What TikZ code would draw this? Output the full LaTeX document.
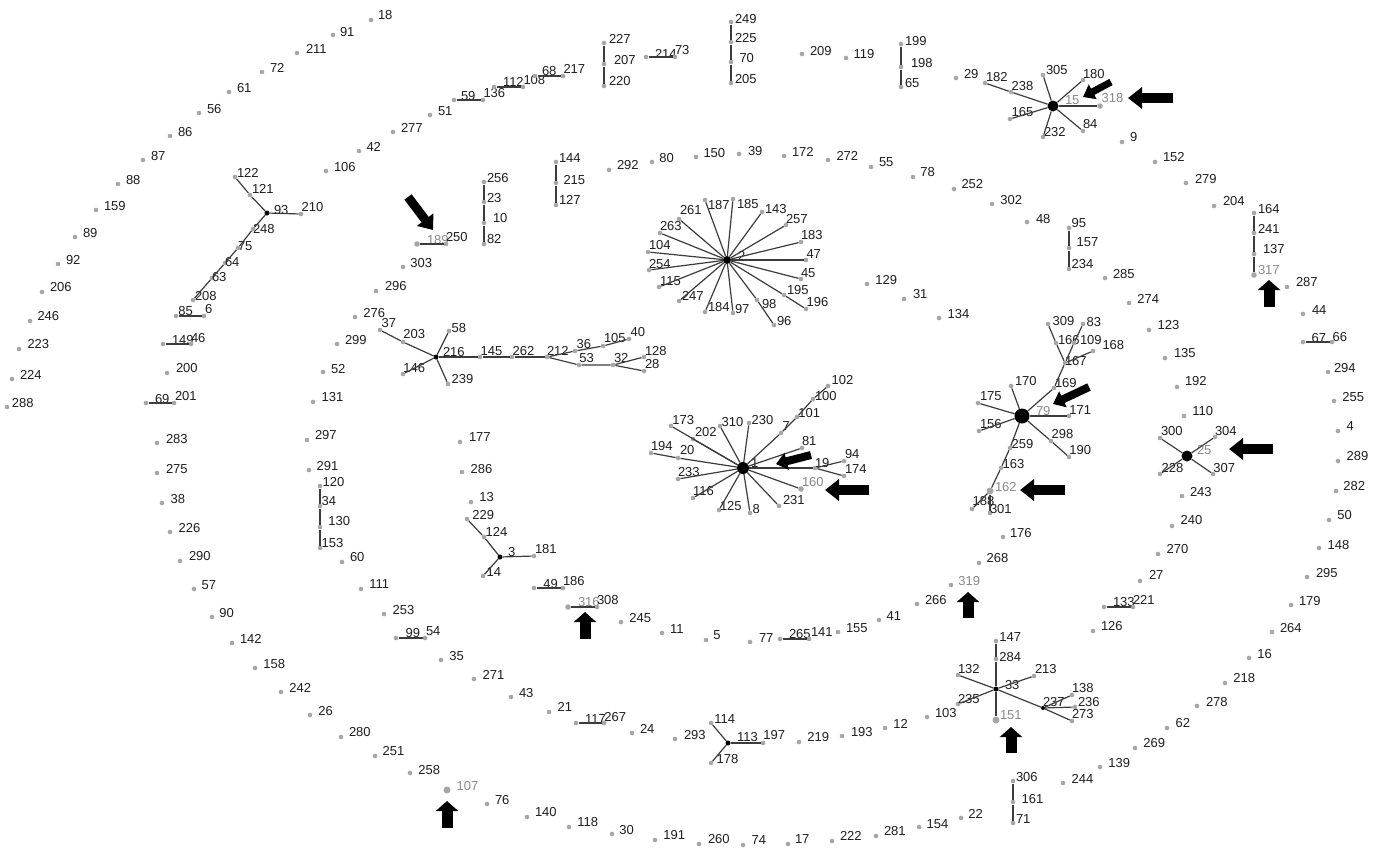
\documentclass[tikz,border=0pt]{standalone}
\usepackage{fontspec}
\setmainfont{Liberation Sans}
\usetikzlibrary{arrows.meta}
\definecolor{labtext}{HTML}{1E1E1E}
\definecolor{labgray}{HTML}{8A8A8A}
\definecolor{dotgray}{HTML}{A6A6A6}
\definecolor{edgecol}{HTML}{3C3C3C}
\newcommand\Nd[6][vdot]{\node[#1] (n#2) at (#3,#4) {};\node[lab] (l#2) at (#3+#5,#4+#6) {#2};}
\newcommand\Ng[6][gdot]{\node[#1] (n#2) at (#3,#4) {};\node[glab] (l#2) at (#3+#5,#4+#6) {#2};}
\begin{document}
\begin{tikzpicture}[x=1pt,y=-1pt,
  vdot/.style={circle,fill=dotgray,inner sep=0pt,minimum size=4.6pt},
  gdot/.style={circle,fill=dotgray,inner sep=0pt,minimum size=5.6pt},
  bgdot/.style={circle,fill=dotgray,inner sep=0pt,minimum size=7pt},
  hub/.style={circle,fill=black,inner sep=0pt,minimum size=5pt},
  lab/.style={anchor=base west,inner sep=0pt,outer sep=0pt,text=labtext,font=\fontsize{13}{15}\selectfont},
  glab/.style={lab,text=labgray},
  lnk/.style={draw=edgecol,line width=1.2pt},
  bigarr/.style={draw=black,line width=10pt,-{Triangle[width=21pt,length=14pt]}},
  uparr/.style={draw=black,line width=11pt,-{Triangle[width=22pt,length=10pt]}},
  smarr/.style={draw=black,line width=8pt,-{Triangle[width=17pt,length=11pt]}}]
\fill[white] (0,0) rectangle (1384,852);
\useasboundingbox (0,0) rectangle (1384,852);
% ---------- outer spiral ----------
\Nd{288}{7}{407}{5}{0}
\Nd{224}{12}{379}{8}{0}
\Nd{223}{19}{349}{8.5}{-0.5}
\Nd{246}{30}{321}{7.5}{-1}
\Nd{206}{42}{292}{8}{-0.5}
\Nd{92}{58}{264}{8}{0.5}
\Nd{89}{75}{237}{8}{0}
\Nd{159}{96}{210}{8}{0.5}
\Nd{88}{118}{184}{8}{0.5}
\Nd{87}{143}{160}{8}{0}
\Nd{86}{170}{136}{8}{0}
\Nd{56}{199}{113}{8}{0}
\Nd{61}{229}{92}{8}{0}
\Nd{72}{262}{72}{8}{0.5}
\Nd{211}{297}{53}{9}{0}
\Nd{91}{333}{35}{7}{1}
\Nd{18}{371}{20}{7}{-0.5}
% ---------- second spiral ----------
\Nd{106}{326}{171}{8}{0}
\Nd{42}{359}{151}{7.5}{0}
\Nd{277}{393}{132}{8}{0}
\Nd{51}{430}{115}{8}{0}
\Nd{59}{454}{100}{7}{0}
\Nd{136}{483}{100}{0.5}{-2.7}
\Nd{112}{494}{87}{9}{-1}
\Nd{108}{523}{87}{0.5}{-2.4}
\Nd{68}{535}{76}{7}{-0.4}
\Nd{217}{563}{76}{0.5}{-3}
\Nd{227}{604}{43}{5}{0.5}
\Nd{207}{604}{64}{10}{0.5}
\Nd{220}{604}{86}{5}{-0.5}
\Nd{214}{646}{57}{9}{1}
\Nd{73}{675}{57}{0}{-2.4}
\Nd{249}{731}{22}{4}{1}
\Nd{225}{731}{42}{4}{0}
\Nd{70}{731}{62}{8.5}{0.5}
\Nd{205}{731}{83}{4}{0.3}
\Nd{209}{802}{54}{8}{1}
\Nd{119}{846}{58}{7.5}{0.6}
\Nd{199}{901}{44}{4}{1}
\Nd{198}{901}{67}{10}{0}
\Nd{65}{901}{87}{4}{0}
\Nd{29}{956}{78}{8}{0.5}
\Nd{182}{985}{83}{1}{-2}
\Nd{238}{1011}{92}{0.7}{-2}
\node[hub,minimum size=11pt] (n15) at (1053,106) {};
\node[glab] (l15) at (1065,104.6) {15};
\Nd{305}{1043}{75}{3}{-0.4}
\Nd{180}{1083}{80}{0}{-1.4}
\Ng{318}{1100}{106}{1.7}{-3.7}
\Nd{84}{1083}{131}{0}{-3}
\Nd{232}{1043}{137}{1}{-0.7}
\Nd{165}{1010}{119}{1.7}{-3}
\Nd{9}{1122}{142}{8}{-0.7}
\Nd{152}{1155}{162}{8}{-0.4}
\Nd{279}{1186}{183}{9}{0.3}
\Nd{204}{1214}{206}{9}{-0.7}
\Nd{164}{1254}{213}{4}{0.3}
\Nd{241}{1254}{233}{4}{0.3}
\Nd{137}{1254}{254}{9}{-1}
\Ng{317}{1254}{275}{4}{-0.4}
\Nd{287}{1287}{287}{9}{-0.4}
\Nd{44}{1303}{314}{9}{0.6}
\Nd{67}{1303}{342}{8.7}{0}
\Nd{66}{1332}{342}{0.7}{-0.7}
\Nd{294}{1328}{372}{6}{0}
\Nd{255}{1334}{401}{8.3}{0.3}
\Nd{4}{1338}{431}{8.7}{-0.4}
\Nd{289}{1338}{461}{8.7}{-0.4}
\Nd{282}{1336}{491}{7.3}{-0.7}
\Nd{50}{1329}{520}{8.3}{-0.4}
\Nd{148}{1319}{548}{8.7}{1}
\Nd{295}{1307}{577}{9}{0.3}
\Nd{179}{1291}{605}{8}{0}
\Nd{264}{1272}{632}{8}{0.3}
\Nd{16}{1249}{658}{8.3}{0}
\Nd{218}{1225}{683}{8.3}{-1}
\Nd{278}{1197}{706}{9}{0.3}
\Nd{62}{1167}{728}{8.7}{-0.7}
\Nd{269}{1135}{748}{8.3}{-0.7}
\Nd{139}{1100}{767}{8.3}{0}
\Nd{244}{1063}{783}{8.7}{0.6}
\Nd{306}{1013}{781}{3}{0.3}
\Nd{161}{1013}{802}{8.7}{1.6}
\Nd{71}{1013}{823}{3}{0}
\Nd{22}{961}{818}{7.3}{0.6}
\Nd{154}{919}{827}{7.7}{1}
\Nd{281}{876}{836}{8}{-0.7}
\Nd{222}{832}{841}{8}{-0.4}
\Nd{17}{788}{844}{7}{-1}
\Nd{74}{743}{845}{8.7}{-0.4}
\Nd{260}{699}{844}{9}{-1}
\Nd{191}{655}{840}{8.3}{-0.4}
\Nd{30}{612}{834}{7.3}{0.6}
\Nd{118}{569}{827}{8.3}{-0.7}
\Nd{140}{527}{817}{8}{-0.7}
\Nd{76}{487}{804}{8}{0}
\Ng[bgdot]{107}{447}{790}{9.7}{0.3}
\Nd{258}{410}{773}{8.3}{1}
\Nd{251}{375}{756}{7.7}{-0.4}
\Nd{280}{341}{737}{8}{-0.7}
\Nd{26}{310}{715}{8.3}{0.3}
\Nd{242}{281}{692}{8.3}{0.3}
\Nd{158}{255}{668}{8.3}{0}
\Nd{142}{232}{643}{8}{0}
\Nd{90}{212}{617}{7.3}{0}
\Nd{57}{194}{589}{7.7}{0.6}
\Nd{290}{180}{561}{9}{-0.4}
\Nd{226}{170}{532}{8.7}{0.3}
\Nd{38}{162}{503}{8.7}{0.3}
\Nd{275}{157}{473}{9}{0}
\Nd{283}{157}{443}{9}{0}
\Nd{69}{146}{403}{9}{0}
\Nd{201}{174}{403}{1}{-2.4}
\Nd{200}{167}{373}{9}{-0.4}
\Nd{149}{163}{344}{9}{0.6}
\Nd{46}{191}{344}{0}{-2}
\Nd{85}{176}{316}{2.3}{-0.4}
\Nd{6}{204}{316}{1}{-3}
\Nd{208}{193}{300}{2}{0}
\Nd{63}{212}{278}{0}{3}
\Nd{64}{225}{263}{0}{3}
\Nd{75}{238}{248}{0}{2.3}
\Nd{248}{253}{229}{0}{4}
\Nd[hub]{93}{267}{213}{7}{1}
\Nd{210}{301}{214}{0.7}{-2.7}
\Nd{121}{250}{195}{2}{-1.4}
\Nd{122}{235}{177}{2}{0}
% ---------- third spiral ----------
\Nd{303}{403}{267}{7.3}{0}
\Ng{189}{417}{244}{10}{0.6}
\Nd{250}{446}{244}{0}{-3}
\Nd{256}{484}{182}{3}{0}
\Nd{23}{484}{202}{3}{0.2}
\Nd{10}{484}{223}{9}{-0.7}
\Nd{82}{484}{244}{3}{-0.7}
\Nd{144}{556}{162}{3}{0}
\Nd{215}{556}{183}{7.5}{1.3}
\Nd{127}{556}{205}{3}{-0.4}
\Nd{292}{609}{170}{8}{-0.4}
\Nd{80}{652}{162}{7.3}{0}
\Nd{150}{696}{157}{7.5}{0}
\Nd{39}{739}{154}{9}{1}
\Nd{172}{784}{156}{8}{0}
\Nd{272}{828}{160}{8.5}{0}
\Nd{55}{871}{167}{8}{-0.7}
\Nd{78}{913}{177}{7.3}{-0.7}
\Nd{252}{954}{189}{7.5}{-0.4}
\Nd{302}{992}{204}{8.3}{0}
\Nd{48}{1027}{222}{9}{1}
\Nd{95}{1069}{228}{2.7}{-1}
\Nd{157}{1069}{248}{7.7}{-1.4}
\Nd{234}{1069}{269}{2.7}{-0.4}
\Nd{285}{1105}{278}{8}{0.3}
\Nd{274}{1129}{303}{8.3}{0}
\Nd{123}{1149}{330}{8.7}{-0.4}
\Nd{135}{1165}{358}{9}{-0.7}
\Nd{192}{1177}{387}{8}{-1.4}
\Nd{110}{1184}{416}{8.3}{-0.4}
\node[hub,minimum size=11pt] (n25) at (1187,456) {};
\node[glab] (l25) at (1197,454.6) {25};
\Nd{300}{1160}{438}{1}{-2.4}
\Nd{304}{1215}{437}{0}{-1.4}
\Nd{228}{1160}{474}{1.7}{-1.7}
\Nd{307}{1213}{474}{0.3}{-1.7}
\Nd{243}{1182}{496}{8}{0.3}
\Nd{240}{1172}{526}{8.7}{-1.4}
\Nd{270}{1158}{554}{8.7}{-1}
\Nd{27}{1140}{581}{9}{-1.4}
\Nd{133}{1104}{607}{9}{-0.7}
\Nd{221}{1133}{607}{0}{-3}
\Nd{126}{1093}{631}{8}{-0.7}
\Nd[hub]{33}{996}{689}{9}{0.6}
\Nd{147}{996}{641}{3.3}{0.3}
\Nd{284}{996}{659}{3.3}{2.3}
\Nd{132}{958}{675}{0}{-2}
\Nd{235}{958}{704}{0}{-1}
\Ng[bgdot]{151}{996}{720}{4}{-1}
\Nd{213}{1034}{676}{1}{-3}
\Nd[hub,minimum size=4pt]{237}{1043}{708}{0}{-1.7}
\Nd{138}{1072}{695}{0}{-2.7}
\Nd{236}{1075}{707}{3}{-0.7}
\Nd{273}{1072}{721}{0}{-3}
\Nd{103}{927}{717}{8}{0}
\Nd{12}{885}{728}{8.3}{0}
\Nd{193}{842}{736}{9}{0.3}
\Nd{219}{799}{742}{8.3}{-0.7}
\Nd{197}{763}{743}{0.3}{-3.4}
\Nd[hub]{113}{728}{743}{9}{-1.7}
\Nd{114}{711}{723}{3.3}{0.6}
\Nd{178}{711}{763}{5.7}{0}
\Nd{293}{675}{739}{9}{0.6}
\Nd{24}{632}{733}{8}{0}
\Nd{267}{604}{723}{0.3}{-1.7}
\Nd{117}{576}{723}{9}{0}
\Nd{21}{549}{712}{8.7}{-0.7}
\Nd{43}{511}{697}{8}{0}
\Nd{271}{474}{679}{8.7}{0.6}
\Nd{35}{441}{660}{8.3}{0.3}
\Nd{99}{396}{638}{9.7}{-0.7}
\Nd{54}{425}{638}{1}{-2.4}
\Nd{253}{384}{614}{8.7}{0}
\Nd{111}{361}{589}{8.3}{-0.4}
\Nd{60}{342}{562}{8}{-0.7}
\Nd{153}{320}{548}{1.7}{-0.4}
\Nd{130}{320}{527}{8.3}{-1.4}
\Nd{34}{320}{506}{1.7}{-0.4}
\Nd{120}{320}{486}{2.7}{0.3}
\Nd{291}{309}{470}{7.7}{0.6}
\Nd{297}{307}{440}{8}{-0.4}
\Nd{131}{313}{402}{8.7}{-0.7}
\Nd{52}{323}{372}{8}{1.6}
\Nd{299}{337}{344}{8}{0}
\Nd{276}{355}{317}{8.3}{0}
\Nd{296}{376}{291}{9}{-0.4}
% ---------- inner ring ----------
\Nd{177}{460}{442}{9}{-0.7}
\Nd{286}{462}{472}{8.7}{1}
\Nd{13}{471}{502}{8.3}{-0.7}
\Nd{229}{467}{519}{5.3}{0.6}
\Nd{124}{484}{537}{1.7}{-0.7}
\Nd[hub]{3}{500}{557}{8}{-0.7}
\Nd{181}{534}{556}{1}{-3}
\Nd{14}{483}{576}{3.7}{0.3}
\Nd{49}{534}{588}{9.3}{0}
\Nd{186}{563}{588}{0}{-2.7}
\Ng{316}{568}{607}{10}{-0.7}
\Nd{308}{597}{607}{0}{-2.4}
\Nd{245}{621}{622}{8.3}{0}
\Nd{11}{662}{633}{8}{0}
\Nd{5}{706}{640}{7.3}{-0.4}
\Nd{77}{750}{642}{9}{0}
\Nd{265}{780}{639}{9}{-0.4}
\Nd{141}{809}{639}{2}{-2.7}
\Nd{155}{838}{632}{8}{0}
\Nd{41}{879}{620}{7.7}{0.6}
\Nd{266}{917}{604}{8}{0.6}
\Ng[vdot]{319}{951}{585}{7.3}{0.3}
\Nd{268}{979}{563}{7.7}{-0.7}
\Nd{176}{1003}{537}{7}{0}
\Nd{134}{939}{318}{8.7}{0}
\Nd{31}{904}{299}{9}{-0.4}
\Nd{129}{867}{284}{8.3}{0.6}
% ---------- cluster 216 ----------
\Nd[hub]{216}{436}{357}{7}{-1}
\Nd{37}{380}{330}{1.7}{-2.7}
\Nd{203}{403}{342}{0.3}{-3.4}
\Nd{58}{449}{331}{2.7}{1}
\Nd{146}{403}{374}{0.3}{-2}
\Nd{239}{448}{384}{3.7}{-0.4}
\Nd{145}{480}{357}{0.7}{-1.7}
\Nd{262}{512}{357}{0.7}{-1.7}
\Nd{212}{547}{357}{0}{-1.7}
\Nd{36}{575}{351}{1.7}{-3}
\Nd{105}{603}{346}{1}{-4}
\Nd{40}{629}{339}{1.7}{-2.7}
\Nd{53}{579}{365}{0.3}{-3}
\Nd{32}{613}{365}{1}{-3}
\Nd{128}{644}{357}{1}{-1.7}
\Nd{28}{644}{371}{1}{-3}
% ---------- cluster 2 ----------
\Nd[hub,minimum size=8pt]{2}{727}{260}{11}{0.6}
\Nd{187}{705}{200}{3}{9.5}
\Nd{185}{733}{199}{4}{9}
\Nd{143}{762}{212}{3}{1.7}
\Nd{257}{786}{225}{0}{-1.3}
\Nd{183}{801}{242}{0}{-2.5}
\Nd{47}{806}{260}{0.5}{-2}
\Nd{45}{801}{279}{0}{-1.7}
\Nd{195}{784}{295}{3}{-1}
\Nd{196}{806}{309}{0.7}{-3}
\Nd{98}{757}{300}{5}{8}
\Nd{96}{774}{325}{3}{0}
\Nd{97}{733}{313}{2}{0}
\Nd{184}{705}{312}{3}{-0.7}
\Nd{247}{679}{301}{3}{-1}
\Nd{115}{659}{287}{1}{-1.5}
\Nd{254}{649}{270}{0}{-2}
\Nd{104}{648}{252}{1}{-3}
\Nd{263}{660}{233}{0}{-2.7}
\Nd{261}{679}{219}{1}{-4.5}
% ---------- cluster 1 ----------
\Nd[hub,minimum size=12pt]{1}{743}{468}{8}{-1}
\Nd{173}{671}{426}{1.3}{-1.4}
\Nd{202}{693}{439}{2}{-2.7}
\Nd{20}{678}{458}{2}{-3.4}
\Nd{194}{651}{453}{0}{-2.4}
\Nd{233}{678}{479}{0}{-3}
\Nd{116}{693}{498}{0}{-2.7}
\Nd{125}{719}{510}{1}{0}
\Nd{8}{750}{513}{2.7}{0}
\Nd{231}{779}{506}{4}{-1.4}
\Ng{160}{801}{489}{1}{-2.7}
\Nd{19}{815}{468}{0}{-1}
\Nd{94}{844}{461}{1}{-2.4}
\Nd{174}{844}{476}{1}{-3}
\Nd{81}{802}{448}{0}{-2.7}
\Nd{7}{781}{433}{1.7}{-2.4}
\Nd{101}{797}{417}{1.3}{0}
\Nd{100}{813}{399}{2}{1.6}
\Nd{102}{828}{386}{3.7}{-1.4}
\Nd{230}{749}{423}{2.7}{1.6}
\Nd{310}{720}{426}{1.7}{0.3}
% ---------- cluster 79 ----------
\node[hub,minimum size=15pt] (n79) at (1022,416) {};
\node[glab] (l79) at (1036,415.6) {79};
\Nd{170}{1011}{386}{4}{-0.7}
\Nd{175}{978}{403}{2}{-2.4}
\Nd{156}{979}{431}{1}{-3}
\Nd{259}{1010}{448}{1.7}{0.6}
\Nd{163}{1001}{468}{1.7}{0.6}
\Ng[bgdot]{162}{990}{491}{5}{0}
\Nd{188}{972}{509}{0.7}{-3.4}
\Nd{301}{990}{513}{0}{0}
\Nd{169}{1054}{388}{1}{-0.7}
\Nd{167}{1065}{363}{0}{2.6}
\Nd{309}{1048}{324}{4.7}{1.6}
\Nd{166}{1056}{343}{2}{1.6}
\Nd{83}{1083}{324}{3.7}{2.3}
\Nd{109}{1074}{343}{6}{1.6}
\Nd{168}{1093}{351}{9.5}{-2}
\Nd{171}{1069}{416}{0.3}{-1.4}
\Nd{298}{1051}{441}{0.7}{-2.4}
\Nd{190}{1069}{457}{0.3}{-3}
% ---------- connectors ----------
\draw[lnk] (n93)--(n121)--(n122);
\draw[lnk] (n93)--(n210);
\draw[lnk] (n93)--(n248)--(n75)--(n64)--(n63)--(n208);
\draw[lnk] (n85)--(n6);
\draw[lnk] (n149)--(n46);
\draw[lnk] (n69)--(n201);
\draw[lnk] (n59)--(n136);
\draw[lnk] (n112)--(n108);
\draw[lnk] (n68)--(n217);
\draw[lnk] (n227)--(n207)--(n220);
\draw[lnk] (n214)--(n73);
\draw[lnk] (n249)--(n225)--(n70)--(n205);
\draw[lnk] (n199)--(n198)--(n65);
\draw[lnk] (n15)--(n238)--(n182);
\foreach \t in {305,180,318,84,232,165} \draw[lnk] (n15)--(n\t);
\draw[lnk] (n95)--(n157)--(n234);
\draw[lnk] (n164)--(n241)--(n137)--(n317);
\draw[lnk] (n67)--(n66);
\draw[lnk] (n189)--(n250);
\draw[lnk] (n256)--(n23)--(n10)--(n82);
\draw[lnk] (n144)--(n215)--(n127);
\foreach \t in {187,185,143,257,183,47,45,195,98,97,184,247,115,254,104,263,261} \draw[lnk] (n2)--(n\t);
\draw[lnk] (n195)--(n196);
\draw[lnk] (n98)--(n96);
\draw[lnk] (n216)--(n203)--(n37);
\foreach \t in {58,146,239} \draw[lnk] (n216)--(n\t);
\draw[lnk] (n216)--(n145)--(n262)--(n212);
\draw[lnk] (n212)--(n36)--(n105)--(n40);
\draw[lnk] (n212)--(n53)--(n32);
\draw[lnk] (n32)--(n128);
\draw[lnk] (n32)--(n28);
\draw[lnk] (n120)--(n34)--(n130)--(n153);
\draw[lnk] (n3)--(n124)--(n229);
\draw[lnk] (n3)--(n181);
\draw[lnk] (n3)--(n14);
\draw[lnk] (n49)--(n186);
\draw[lnk] (n316)--(n308);
\draw[lnk] (n99)--(n54);
\draw[lnk] (n117)--(n267);
\draw[lnk] (n265)--(n141);
\draw[lnk] (n133)--(n221);
\foreach \t in {173,202,233,116,125,8,231,160,19,81,230,310} \draw[lnk] (n1)--(n\t);
\draw[lnk] (n1)--(n20)--(n194);
\draw[lnk] (n19)--(n94);
\draw[lnk] (n19)--(n174);
\draw[lnk] (n1)--(n7)--(n101)--(n100)--(n102);
\foreach \t in {170,175,156,171} \draw[lnk] (n79)--(n\t);
\draw[lnk] (n79)--(n298)--(n190);
\draw[lnk] (n79)--(n169)--(n167);
\draw[lnk] (n167)--(n109)--(n83);
\draw[lnk] (n167)--(n166)--(n309);
\draw[lnk] (n167)--(n168);
\draw[lnk] (n79)--(n259)--(n163)--(n162);
\draw[lnk] (n162)--(n188);
\draw[lnk] (n162)--(n301);
\foreach \t in {300,304,228,307} \draw[lnk] (n25)--(n\t);
\draw[lnk] (n33)--(n284)--(n147);
\foreach \t in {132,235,151,213,237} \draw[lnk] (n33)--(n\t);
\foreach \t in {138,236,273} \draw[lnk] (n237)--(n\t);
\foreach \t in {114,178,197} \draw[lnk] (n113)--(n\t);
\draw[lnk] (n306)--(n161)--(n71);
% ---------- pointer arrows ----------
\coordinate (a1t) at (408,197); \coordinate (a1h) at (433,230);
\coordinate (a2t) at (1111,82); \coordinate (a2h) at (1083,97);
\coordinate (a3t) at (1173,98); \coordinate (a3h) at (1128,98);
\coordinate (a4t) at (1269,307); \coordinate (a4h) at (1269,280);
\coordinate (a5t) at (811,455); \coordinate (a5h) at (776,464);
\coordinate (a6t) at (869,490); \coordinate (a6h) at (825,490);
\coordinate (a7t) at (1089,387); \coordinate (a7h) at (1053,404);
\coordinate (a8t) at (1065,490); \coordinate (a8h) at (1020,490);
\coordinate (a9t) at (1273,449); \coordinate (a9h) at (1229,449);
\coordinate (a10t) at (968,618); \coordinate (a10h) at (968,592);
\coordinate (a11t) at (585,639); \coordinate (a11h) at (585,612);
\coordinate (a12t) at (1011,753); \coordinate (a12h) at (1011,727);
\coordinate (a13t) at (447,828); \coordinate (a13h) at (447,801);
\draw[smarr,line width=9pt,-{Triangle[width=20pt,length=13pt]}] (a1t)--(a1h);
\draw[smarr,line width=7pt,-{Triangle[width=16pt,length=11pt]}] (a2t)--(a2h);
\draw[bigarr] (a3t)--(a3h);
\draw[uparr] (a4t)--(a4h);
\draw[smarr] (a5t)--(a5h);
\draw[bigarr] (a6t)--(a6h);
\draw[smarr] (a7t)--(a7h);
\draw[bigarr] (a8t)--(a8h);
\draw[bigarr] (a9t)--(a9h);
\draw[uparr] (a10t)--(a10h);
\draw[uparr] (a11t)--(a11h);
\draw[uparr] (a12t)--(a12h);
\draw[uparr] (a13t)--(a13h);
\end{tikzpicture}
\end{document}
